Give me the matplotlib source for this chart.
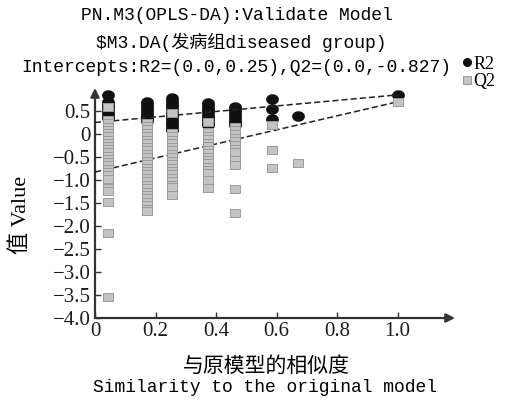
import numpy as np
import matplotlib
matplotlib.use("Agg")
import matplotlib.pyplot as plt
from matplotlib.lines import Line2D

# permutation test: similarity of each permuted model to the original one
similarity = [0.043, 0.172, 0.254, 0.373, 0.462, 0.585, 0.67, 1.0]

r2_values = [
    [0.85, 0.70, 0.64, 0.58, 0.52, 0.46, 0.40, 0.35],
    [0.70, 0.64, 0.58, 0.52, 0.46, 0.40, 0.34, 0.28],
    [0.78, 0.72, 0.66, 0.60, 0.54, 0.46, 0.40, 0.33, 0.27, 0.21, 0.15, 0.09],
    [0.67, 0.61, 0.55, 0.49, 0.43, 0.37, 0.31, 0.25, 0.20],
    [0.59, 0.53, 0.47, 0.41, 0.35, 0.29, 0.24, 0.20],
    [0.76, 0.54, 0.33],
    [0.39],
    [0.85],
]

q2_values = [
    [0.59, 0.30, 0.23, 0.16, 0.09, 0.02, -0.05, -0.12, -0.19, -0.26, -0.33, -0.40,
     -0.47, -0.54, -0.61, -0.68, -0.75, -0.82, -0.89, -0.98, -1.18, -1.24, -1.48,
     -2.15, -3.55],
    [0.24, 0.17, 0.10, 0.02, -0.05, -0.13, -0.20, -0.28, -0.35, -0.43, -0.50, -0.58,
     -0.65, -0.73, -0.80, -0.88, -0.95, -1.03, -1.10, -1.18, -1.25, -1.33, -1.40,
     -1.48, -1.55, -1.62, -1.68],
    [0.46, 0.02, -0.05, -0.13, -0.20, -0.28, -0.35, -0.43, -0.50, -0.58, -0.65,
     -0.73, -0.80, -0.88, -0.95, -1.03, -1.10, -1.15, -1.33],
    [0.26, 0.04, -0.04, -0.11, -0.19, -0.26, -0.34, -0.41, -0.49, -0.56, -0.64,
     -0.71, -0.79, -0.85, -1.00, -1.17],
    [0.15, 0.08, 0.00, -0.08, -0.16, -0.24, -0.32, -0.39, -0.57, -0.67, -1.20, -1.72],
    [0.20, -0.35, -0.74],
    [-0.63],
    [0.70],
]

r2_intercept = 0.25
q2_intercept = -0.827

xticks = [0, 0.2, 0.4, 0.6, 0.8, 1.0]
xtick_labels = ["0", "0.2", "0.4", "0.6", "0.8", "1.0"]
yticks = [0.5, 0, -0.5, -1.0, -1.5, -2.0, -2.5, -3.0, -3.5, -4.0]
ytick_labels = ["0.5", "0", "\u22120.5", "\u22121.0", "\u22121.5", "\u22122.0",
                "\u22122.5", "\u22123.0", "\u22123.5", "\u22124.0"]

# flatten columns
r2_x = [x for x, col in zip(similarity, r2_values) for _ in col]
r2_y = [v for col in r2_values for v in col]
q2_x = [x for x, col in zip(similarity, q2_values) for _ in col]
q2_y = [v for col in q2_values for v in col]

# marker shapes: flat ellipse and slightly flat square
t = np.linspace(0, 2 * np.pi, 40)
ellipse = np.column_stack([np.cos(t), 0.8 * np.sin(t)])
rect = [(-1, -0.8), (1, -0.8), (1, 0.8), (-1, 0.8), (-1, -0.8)]

serif = ["Liberation Serif", "Noto Sans CJK SC"]
mono = ["Liberation Mono", "Noto Sans CJK SC"]

fig = plt.figure(figsize=(5.07, 4.01), dpi=100)
ax = fig.add_axes([95 / 507, 1 - 318 / 401, 360 / 507, 230 / 401])
ax.set_xlim(0, 1.19)
ax.set_ylim(-4.0, 1.0)

ax.plot(r2_x, r2_y, linestyle="none", marker=ellipse, markersize=8.2,
        color="#111111", markeredgecolor="#111111", zorder=3)

# regression lines from intercept to original model
ax.plot([0, similarity[-1]], [r2_intercept, r2_values[-1][0]], color="#222222",
        linestyle=(0, (4, 2)), linewidth=1.1, zorder=4)
ax.plot([0, similarity[-1]], [q2_intercept, q2_values[-1][0]], color="#222222",
        linestyle=(0, (4, 2)), linewidth=1.1, zorder=4)

ax.plot(q2_x, q2_y, linestyle="none", marker=rect, markersize=7.4,
        color="#c4c4c4", markeredgecolor="#9a9a9a", markeredgewidth=0.7, zorder=5)

for s in ax.spines.values():
    s.set_visible(False)
ax.annotate("", xy=(1, 0), xytext=(0, 0), xycoords="axes fraction",
            arrowprops=dict(arrowstyle="-|>", color="#333333", lw=1.6,
                            mutation_scale=13, shrinkA=0, shrinkB=0))
ax.annotate("", xy=(0, 1), xytext=(0, 0), xycoords="axes fraction",
            arrowprops=dict(arrowstyle="-|>", color="#333333", lw=1.6,
                            mutation_scale=13, shrinkA=0, shrinkB=0))

ax.set_xticks(xticks)
ax.set_xticklabels(xtick_labels, family=serif, fontsize=15)
ax.set_yticks(yticks)
ax.set_yticklabels(ytick_labels, family=serif, fontsize=15)
ax.tick_params(direction="in", length=4, width=1, color="#333333",
               labelcolor="#1a1a1a", pad=3)

# titles
fig.text(237 / 507, 1 - 16 / 401, "PN.M3(OPLS-DA):Validate Model",
         family=mono, fontsize=13, ha="center", va="center")
fig.text(241 / 507, 1 - 42 / 401, "$M3.DA(发病组diseased group)",
         family=mono, fontsize=13, ha="center", va="center")
fig.text(236 / 507, 1 - 68 / 401, "Intercepts:R2=(0.0,0.25),Q2=(0.0,-0.827)",
         family=mono, fontsize=13, ha="center", va="center")

# axis labels
fig.text(266 / 507, 1 - 367 / 401, "与原模型的相似度", family=serif,
         fontsize=15, ha="center", va="center")
fig.text(265 / 507, 1 - 387 / 401, "Similarity to the original model",
         family=mono, fontsize=13, ha="center", va="center")
fig.text(21 / 507, 1 - 215 / 401, "值 Value", family=serif, fontsize=16,
         rotation=90, ha="center", va="center")

# legend
handles = [
    Line2D([], [], linestyle="none", marker="o", markersize=5.5, color="#111111"),
    Line2D([], [], linestyle="none", marker="s", markersize=5.5, color="#c4c4c4",
           markeredgecolor="#9a9a9a", markeredgewidth=0.7),
]
fig.legend(handles, ["R2", "Q2"], loc="center left",
           bbox_to_anchor=(462 / 507, 1 - 73 / 401), frameon=False,
           handlelength=0.5, handletextpad=0.15, labelspacing=0.05, borderpad=0,
           borderaxespad=0, prop={"family": serif, "size": 13})

fig.savefig("out.png", dpi=100)
